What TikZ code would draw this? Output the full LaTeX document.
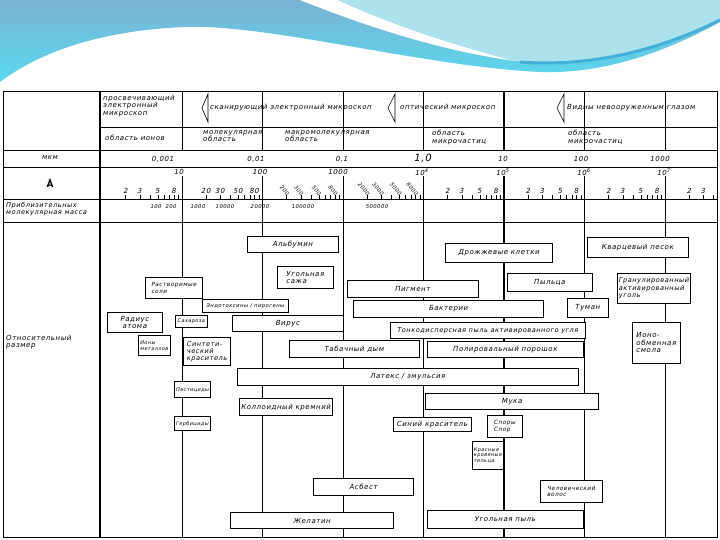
\documentclass[tikz,border=0pt]{standalone}
\usepackage{fontspec}
\setmainfont{DejaVu Sans}
\newfontfamily\gf[LetterSpace=8]{DejaVu Sans}
\newcommand\fA{\gf\itshape\fontsize{7}{7.4}\selectfont}
\newcommand\fB{\gf\itshape\fontsize{6.6}{7.2}\selectfont}
\newcommand\fS{\gf\itshape\fontsize{5}{5.8}\selectfont}
\newcommand\fM{\gf\itshape\fontsize{5.8}{6.6}\selectfont}
\newcommand\fN{\gf\itshape\fontsize{5.3}{6}\selectfont}
\definecolor{waveA}{RGB}{122,178,212}
\definecolor{waveB}{RGB}{88,218,238}
\definecolor{waveC}{RGB}{172,226,236}
\definecolor{waveD}{RGB}{66,176,216}
\tikzset{
  box/.style={draw, fill=white, line width=0.7pt, inner sep=1.5pt, font=\fA, align=center},
  thk/.style={line width=1.2pt},
  lft/.style={align=left},
  txt/.style={font=\fA, inner sep=0pt},
  num/.style={font=\fN, inner sep=0pt},
  sml/.style={font=\fS},
  mid/.style={font=\fM},
  tick/.style={line width=0.5pt},
}
\newcommand\bx[7][]{\node[box,anchor=north west,minimum width={#5-#3},minimum height={#6-#4},#1] (#2) at (#3,#4) {#7};}
\begin{document}
\begin{tikzpicture}[x=1pt,y=-1pt]
\useasboundingbox (0,0) rectangle (720,540);
\fill[white] (0,0) rectangle (720,540);
% decorative waves
\shade[top color=waveA, bottom color=waveB] (0,0) -- (720,0) -- (720,22)
  .. controls (660,55) and (600,74) .. (540,72)
  .. controls (420,66) and (270,24) .. (185,27)
  .. controls (110,30) and (45,48) .. (0,82) -- cycle;
\fill[white] (300,0) .. controls (380,32) and (450,52) .. (515,61)
  .. controls (450,44) and (390,24) .. (338,0) -- cycle;
\fill[waveC] (338,0) .. controls (390,24) and (450,44) .. (515,61)
  .. controls (600,70) and (680,42) .. (720,18) -- (720,0) -- cycle;
\draw[waveD, line width=3pt] (520,62) .. controls (600,68) and (670,45) .. (720,20);
% table frame
\draw[line width=0.8pt] (3,91) rectangle (717,537);
\draw[line width=1.3pt] (100,91) -- (100,537);
\foreach \y in {150,167,199,222} \draw[line width=0.6pt] (3,\y) -- (717,\y);
\draw[line width=0.6pt] (100,127) -- (717,127);
% decade lines
\foreach \x/\w in {182/0.6,262/0.6,343/1.0,423/0.8,504/1.3,584/0.6,665/0.6} {
  \draw[line width=\w pt] (\x,91) -- (\x,150);
  \draw[line width=\w pt] (\x,176) -- (\x,537);
}
% ticks
\foreach \k in {0,...,7}{
  \foreach \m in {2,...,9}{
    \pgfmathsetmacro\xx{182+80.5*(\k-1)+80.5*log10(\m)}
    \pgfmathtruncatemacro\ok{\xx<716}
    \ifnum\ok=1 \draw[tick] (\xx,199) -- (\xx,195.5); \fi
  }
}
% tick labels
\foreach \k in {0,4,5,6}{
  \foreach \m in {2,3,5,8}{
    \pgfmathsetmacro\xx{182+80.5*(\k-1)+80.5*log10(\m)}
    \node[txt] (ta\k\m) at (\xx,191) {\m};
  }
}
\foreach \m in {2,3}{
  \pgfmathsetmacro\xx{665+80.5*log10(\m)}
  \node[txt] (tb\m) at (\xx,191) {\m};
}
\foreach \m in {2,3,5,8}{
  \pgfmathsetmacro\xx{182+80.5*log10(\m)}
  \node[txt] (tc\m) at (\xx,191) {\m0};
  \pgfmathsetmacro\xx{262.5+80.5*log10(\m)}
  \node[num, rotate=-50, anchor=east] (td\m) at (\xx+1.5,194.5) {\m00};
  \pgfmathsetmacro\xx{343+80.5*log10(\m)}
  \node[num, rotate=-50, anchor=east] (te\m) at (\xx+1.5,194.5) {\m000};
}
% decade labels (angstrom)
\node[txt] (d1) at (179,172) {10};
\node[txt] (d2) at (260,172) {100};
\node[txt] (d3) at (338,172) {1000};
\node[txt] (d4) at (422,172) {10\textsuperscript{4}};
\node[txt] (d5) at (503,172) {10\textsuperscript{5}};
\node[txt] (d6) at (584,172) {10\textsuperscript{6}};
\node[txt] (d7) at (664,172) {10\textsuperscript{7}};
% micrometre labels
\node[txt] (u1) at (163,159) {0,001};
\node[txt] (u2) at (256,159) {0,01};
\node[txt] (u3) at (342,159) {0,1};
\node[txt, font=\gf\itshape\fontsize{10}{11}\selectfont] (u4) at (423,158) {1,0};
\node[txt] (u5) at (503,159) {10};
\node[txt] (u6) at (581,159) {100};
\node[txt] (u7) at (660,159) {1000};
% molecular mass
\node[num] (m1) at (156,207) {100};
\node[num] (m2) at (171,207) {200};
\node[num] (m3) at (198,207) {1000};
\node[num] (m4) at (225,207) {10000};
\node[num] (m5) at (260,207) {20000};
\node[num] (m6) at (303,207) {100000};
\node[num] (m7) at (377,207) {500000};
% left column labels
\node[txt] (lmkm) at (50,158) {мкм};
\node[txt, font=\gf\bfseries\fontsize{9}{10}\selectfont] (lang) at (50,183) {Å};
\node[txt, lft, anchor=north west, font=\fB] (lmass) at (6,202) {Приблизительных\\молекулярная масса};
\node[txt, lft, anchor=north west] (lrel) at (6,335) {Относительный\\размер};
% row 1
\node[txt, lft, anchor=north west] (tem) at (103,95) {просвечивающий\\электронный\\микроскоп};
\draw[line width=0.6pt] (208,94) -- (202,108) -- (208,122) -- cycle;
\node[txt, anchor=west] (sem) at (210,108) {сканирующий электронный микроскоп};
\draw[line width=0.6pt] (395,94) -- (388,108) -- (395,122) -- cycle;
\node[txt, anchor=west] (opt) at (400,108) {оптический микроскоп};
\draw[line width=0.6pt] (564,94) -- (557,108) -- (564,122) -- cycle;
\node[txt, anchor=west] (eye) at (567,108) {Видны невооруженным глазом};
% row 2
\node[txt] (r2a) at (135,138) {область ионов};
\node[txt, lft, anchor=north west] (r2b) at (203,130) {молекулярная\\область};
\node[txt, lft, anchor=north west] (r2c) at (285,130) {макромолекулярная\\область};
\node[txt, lft, anchor=north west] (r2d) at (432,130) {область\\микрочастиц};
\node[txt, lft, anchor=north west] (r2e) at (568,130) {область\\микрочастиц};
% boxes
\bx{alb}{247}{236}{338}{252}{Альбумин}
\bx[lft]{soot}{277}{266}{333}{288}{Угольная\\сажа}
\bx[thk]{yeast}{445}{243}{552}{262}{Дрожжевые клетки}
\bx{sand}{587}{237}{688}{257}{Кварцевый песок}
\bx{pollen}{507}{273}{592}{291}{Пыльца}
\bx{pig}{347}{280}{478}{297}{Пигмент}
\bx[lft,font=\fB]{gac}{617}{273}{690}{303}{Гранулированный\\активированный\\уголь}
\bx[lft,mid,thk]{salts}{145}{277}{202}{298}{Растворимые\\соли}
\bx[font=\fN]{endo}{202}{299}{288}{312}{Эндотоксины / пирогены}
\bx[thk]{bact}{353}{300}{543}{317}{Бактерии}
\bx{fog}{567}{298}{608}{317}{Туман}
\bx{atom}{107}{312}{162}{332}{Радиус\\атома}
\bx[sml]{sucr}{175}{315}{207}{327}{Сахароза}
\bx{virus}{232}{315}{343}{331}{Вирус}
\bx[lft,font=\fB]{dust}{390}{322}{585}{338}{Тонкодисперсная пыль активированного угля}
\bx[lft]{ionex}{632}{322}{680}{363}{Ионо-\\обменная\\смола}
\bx[lft,sml]{metal}{138}{335}{170}{355}{Ионы\\металлов}
\bx[lft,thk,font=\fB]{dye}{183}{337}{230}{365}{Синтети-\\ческий\\краситель}
\bx{smoke}{289}{340}{419}{357}{Табачный дым}
\bx{polish}{427}{341}{583}{357}{Полировальный порошок}
\bx{latex}{237}{368}{578}{385}{Латекс / эмульсия}
\bx[sml,thk]{pest}{174}{381}{208}{397}{Пестициды}
\bx[thk]{flour}{425}{393}{598}{409}{Мука}
\bx[thk]{silica}{239}{398}{332}{415}{Коллоидный кремний}
\bx[sml,thk]{herb}{174}{416}{208}{430}{Гербициды}
\bx{blue}{393}{417}{471}{431}{Синий краситель}
\bx[lft,mid]{spores}{487}{415}{522}{437}{Споры\\Спор}
\bx[lft,sml]{rbc}{472}{441}{503}{469}{Красные\\кровяные\\тельца}
\bx[thk]{asb}{313}{478}{413}{495}{Асбест}
\bx[lft,mid]{hair}{540}{480}{602}{502}{Человеческий\\волос}
\bx[thk]{gel}{230}{512}{393}{528}{Желатин}
\bx{coal}{427}{510}{583}{528}{Угольная пыль}
\end{tikzpicture}
\end{document}
